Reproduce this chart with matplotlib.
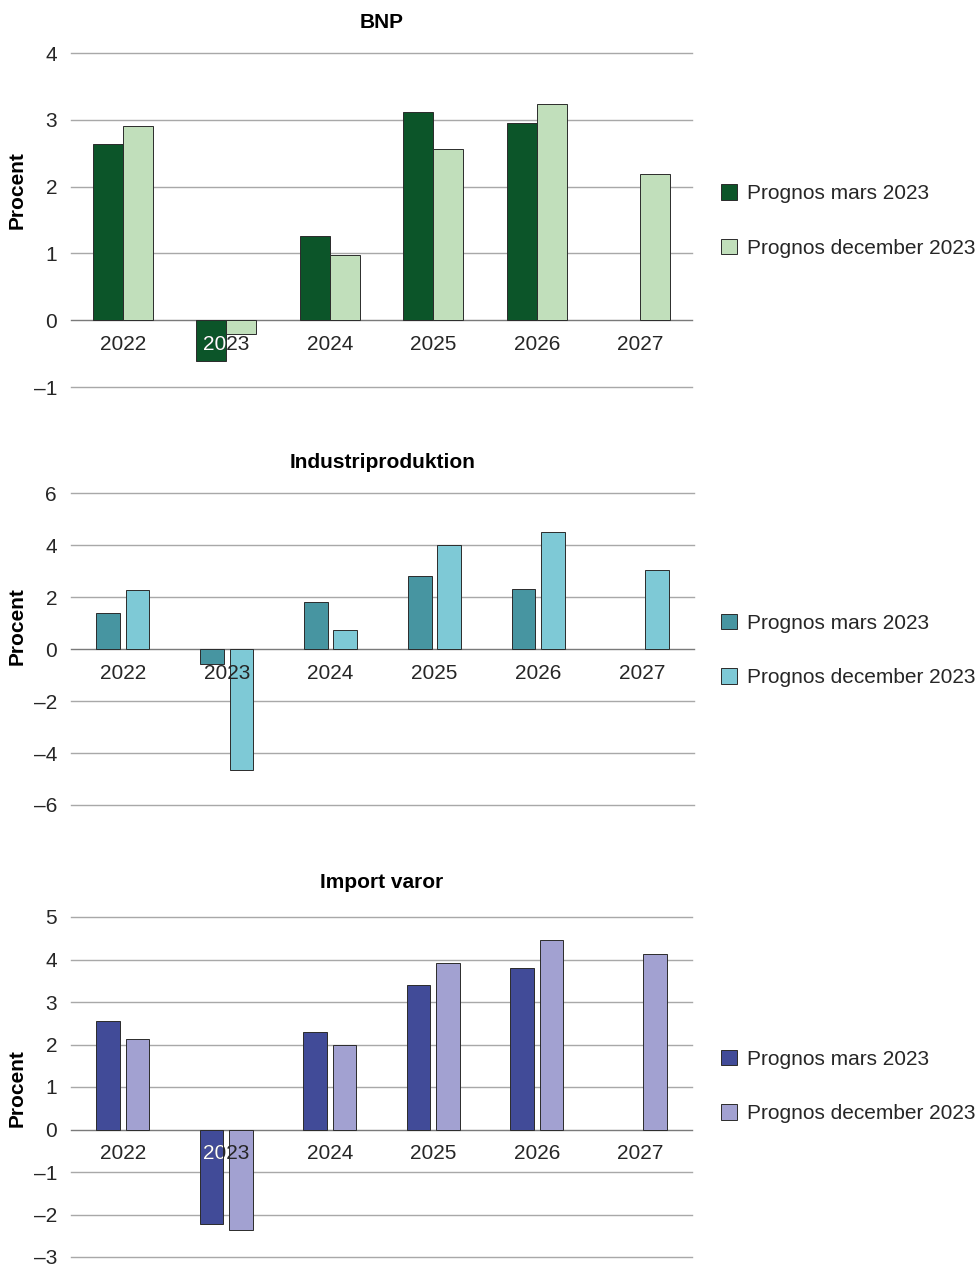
import matplotlib
matplotlib.use("Agg")
import matplotlib.pyplot as plt
from matplotlib.patches import Patch
import numpy as np

years = ["2022", "2023", "2024", "2025", "2026", "2027"]
series_labels = ["Prognos mars 2023", "Prognos december 2023"]

# annual growth, percent (no March forecast for 2027)
bnp_mars = [2.64, -0.61, 1.26, 3.11, 2.95, np.nan]
bnp_dec = [2.91, -0.20, 0.98, 2.57, 3.24, 2.19]
ind_mars = [1.39, -0.58, 1.79, 2.81, 2.31, np.nan]
ind_dec = [2.28, -4.64, 0.72, 4.00, 4.51, 3.02]
imp_mars = [2.56, -2.22, 2.29, 3.40, 3.80, np.nan]
imp_dec = [2.12, -2.37, 2.00, 3.91, 4.47, 4.12]

W, H = 978, 1267
plt.rcParams['font.family'] = ['Liberation Sans', 'DejaVu Sans']
TXT = "#262626"

panels = [
    dict(title="BNP", mars=bnp_mars, dec=bnp_dec,
         colors=("#0c5529", "#c1dfbb"), ylim=(-1, 4), ticks=range(-1, 5),
         box=(71, 692, 53, 387), width=0.29, offset=0.145,
         title_y=23, ylabel_y=190, legend_y=221),
    dict(title="Industriproduktion", mars=ind_mars, dec=ind_dec,
         colors=("#4795a1", "#7ec9d6"), ylim=(-6, 6), ticks=range(-6, 7, 2),
         box=(71, 694, 493, 805), width=0.227, offset=0.141,
         title_y=462, ylabel_y=626, legend_y=650.5),
    dict(title="Import varor", mars=imp_mars, dec=imp_dec,
         colors=("#414b98", "#a2a1d1"), ylim=(-3, 5), ticks=range(-3, 6),
         box=(71, 692, 917, 1257), width=0.227, offset=0.141,
         title_y=883, ylabel_y=1088, legend_y=1086.5),
]

fig = plt.figure(figsize=(W / 100, H / 100), dpi=100)
x = np.arange(len(years))

for p in panels:
    left, right, top, bottom = p["box"]
    ax = fig.add_axes([left / W, 1 - bottom / H, (right - left) / W, (bottom - top) / H])
    ax.set_xlim(-0.5, len(years) - 0.5)
    ax.set_ylim(*p["ylim"])
    for s in ax.spines.values():
        s.set_visible(False)
    ax.set_xticks([])
    ax.set_yticks(list(p["ticks"]))
    ax.set_yticklabels([str(t).replace("-", "\u2013") for t in p["ticks"]],
                       fontsize=15, color=TXT)
    ax.tick_params(axis="y", length=0, pad=10)
    for t in p["ticks"]:
        ax.axhline(t, color="#7a7a7a" if t == 0 else "#a8a8a8", lw=1.0,
                   zorder=0, clip_on=False)

    dark, light = p["colors"]
    bars_m = ax.bar(x - p["offset"], p["mars"], p["width"], color=dark,
                    edgecolor="#2b2b2b", linewidth=0.7, zorder=2)
    ax.bar(x + p["offset"], p["dec"], p["width"], color=light,
           edgecolor="#2b2b2b", linewidth=0.7, zorder=2)

    # year labels sit just under the zero line; white where they cross a dark bar
    for i, yr in enumerate(years):
        ax.annotate(yr, (i, 0), xytext=(0, -17.5), textcoords="offset points",
                    ha="center", va="center", fontsize=15, color=TXT, zorder=3)
        if not np.isnan(p["mars"][i]):
            knock = ax.annotate(yr, (i, 0), xytext=(0, -17.5), textcoords="offset points",
                                ha="center", va="center", fontsize=15,
                                color="white", zorder=4, clip_on=True)
            knock.set_clip_path(bars_m.patches[i])

    fig.text((left + right) / 2 / W, 1 - p["title_y"] / H, p["title"],
             ha="center", va="center", fontsize=15, fontweight="bold", color="black")
    fig.text(17.5 / W, 1 - p["ylabel_y"] / H, "Procent", rotation=90,
             ha="center", va="center", fontsize=15, fontweight="bold", color="black")

    handles = [Patch(facecolor=dark, edgecolor="#2b2b2b", linewidth=0.7),
               Patch(facecolor=light, edgecolor="#2b2b2b", linewidth=0.7)]
    leg = fig.legend(handles, series_labels, loc="center left",
                     bbox_to_anchor=(721 / W, 1 - p["legend_y"] / H),
                     frameon=False, handlelength=0.77, handleheight=0.77,
                     handletextpad=0.48, labelspacing=1.7, borderpad=0,
                     borderaxespad=0, prop=dict(size=15))
    for t in leg.get_texts():
        t.set_color(TXT)

fig.savefig("out.png", dpi=100, facecolor="white")
